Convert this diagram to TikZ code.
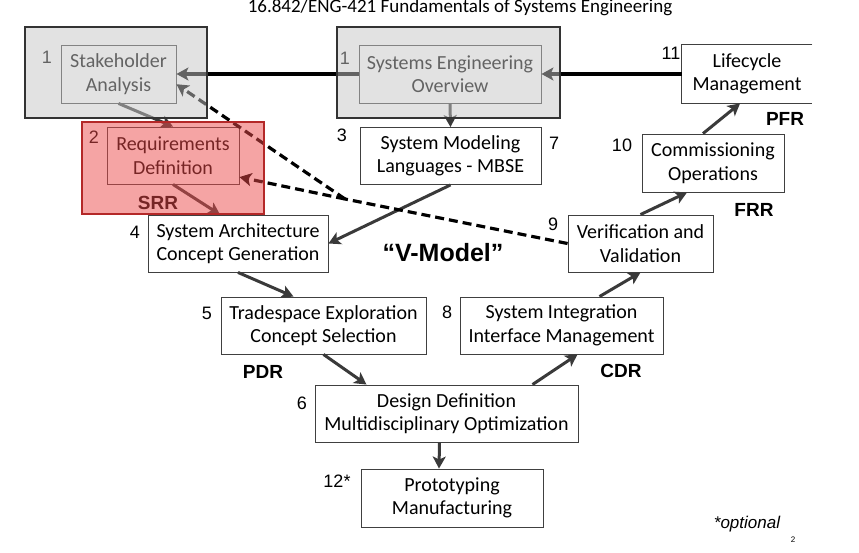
\documentclass[tikz,border=0pt]{standalone}
\usepackage{fontspec}
\setmainfont{Carlito}
\newfontfamily\arialfont{Liberation Sans}
\usetikzlibrary{arrows.meta,calc}
\definecolor{boxgray}{HTML}{C6C6C6}
\definecolor{boxred}{HTML}{EC4A4A}
\definecolor{redline}{HTML}{B42828}
\definecolor{arrowgray}{HTML}{3A3A3A}

\begin{document}
\begin{tikzpicture}[x=1pt,y=-1pt,
  stage/.style={draw=black!75,line width=0.9pt,fill=white,align=center,
    font=\fontsize{20}{23.5}\selectfont,inner sep=0pt},
  num/.style={font=\arialfont\fontsize{18}{18}\selectfont,inner sep=0pt},
  review/.style={font=\arialfont\bfseries\fontsize{19}{19}\selectfont,inner sep=0pt},
  flow/.style={draw=arrowgray,line width=3pt,-{Stealth[length=12pt,width=13pt,inset=3pt]}},
  feedback/.style={draw=black,line width=3.2pt,dash pattern=on 9pt off 5pt,
    -{Stealth[length=12pt,width=13pt,inset=3pt]}},
  shadegray/.style={draw=black!80,line width=1.3pt,fill=boxgray,fill opacity=0.5,inner sep=0pt},
  shadered/.style={draw=redline,line width=1.3pt,fill=boxred,fill opacity=0.5,inner sep=0pt}]
  \path[use as bounding box,clip] (0,0) rectangle (859,553);

  \node[anchor=base,font=\fontsize{19}{19}\selectfont] (title) at (460,13)
    {16.842/ENG-421 Fundamentals of Systems Engineering};

  % stages of the V
  \node[stage,minimum width=115,minimum height=58] (sa) at (118.5,74) {Stakeholder\\Analysis};
  \node[stage,minimum width=182,minimum height=58] (se) at (450,74) {Systems Engineering\\Overview};
  \node[stage,draw=none,minimum width=130,minimum height=58] (lm) at (747,74) {Lifecycle\\Management};
  \draw[black!75,line width=0.9pt] (lm.north east) -- (lm.north west) -- (lm.south west) -- (lm.south east);
  \node[stage,minimum width=181,minimum height=57] (sml) at (450.5,156) {System Modeling\\Languages - MBSE};
  \node[stage,minimum width=142,minimum height=58] (co) at (713,163) {Commissioning\\Operations};
  \node[stage,minimum width=132,minimum height=57] (rd) at (173,155.5) {Requirements\\Definition};
  \node[stage,minimum width=180,minimum height=57] (sacg) at (238,243.5) {System Architecture\\Concept Generation};
  \node[stage,minimum width=145,minimum height=57] (vv) at (640.5,243.5) {Verification and\\Validation};
  \node[stage,minimum width=205,minimum height=57] (te) at (323.5,325.5) {Tradespace Exploration\\Concept Selection};
  \node[stage,minimum width=203,minimum height=57] (si) at (561.5,325.5) {System Integration\\Interface Management};
  \node[stage,minimum width=263,minimum height=57] (dd) at (446.5,413.5) {Design Definition\\Multidisciplinary Optimization};
  \node[stage,minimum width=182,minimum height=58] (pm) at (452,498) {Prototyping\\Manufacturing};

  % numbers and reviews
  \node[num] (n1a) at (47,57) {1};
  \node[num] (n1b) at (345,58) {1};
  \node[num] (n11) at (671,53) {11};
  \node[num] (n2) at (94,137) {2};
  \node[num] (n3) at (342,135) {3};
  \node[num] (n7) at (554,143) {7};
  \node[num] (n10) at (622,145) {10};
  \node[num] (n4) at (135,232) {4};
  \node[num] (n9) at (553,224) {9};
  \node[num] (n5) at (207,313) {5};
  \node[num] (n8) at (447,312) {8};
  \node[num] (n6) at (302,403) {6};
  \node[num] (n12) at (337,481) {12*};
  \node[review] (srr) at (158,203) {SRR};
  \node[review] (pfr) at (785,119) {PFR};
  \node[review] (frr) at (754,210) {FRR};
  \node[review] (pdr) at (263,372) {PDR};
  \node[review] (cdr) at (621,371) {CDR};

  % arrows
  \draw[flow,draw=black,line width=3.5pt] (se.west) -- (sa.east);
  \draw[flow,draw=black,line width=3.5pt] (lm.west) -- (se.east);
  \draw[flow] (sa.south) -- (rd.north);
  \draw[flow] (rd.south) -- ($(sacg.north)+(-18,0)$);
  \draw[flow] (se.south) -- (sml.north);
  \draw[flow] (sml.south) -- (sacg.east);
  \draw[flow] (sacg.south) -- ($(te.north)+(-30,0)$);
  \draw[flow] (te.south) -- ($(dd.north)+(-80,0)$);
  \draw[flow] ($(dd.north)+(86,0)$) -- ($(si.south)+(16,0)$);
  \draw[flow] ($(si.north)+(38,0)$) -- (vv.south);
  \draw[flow] (vv.north) -- ($(co.south)+(-26,0)$);
  \draw[flow] ($(co.north)+(-10,0)$) -- ($(lm.south)+(-7,0)$);
  \draw[flow] ($(dd.south)+(-7,0)$) -- ($(pm.north)+(-13,0)$);

  % feedback from V&V
  \coordinate (vj) at (345,199);
  \draw[feedback,-] (vv.west) -- (vj);
  \draw[feedback] (vj) -- (sa.-10);
  \draw[feedback] (vj) -- (rd.-18);

  % highlights
  \node[shadegray,minimum width=182,minimum height=91] (sho) at (116,72.5) {};
  \node[shadegray,minimum width=223,minimum height=91] (seo) at (448.5,72.5) {};
  \node[shadered,minimum width=182,minimum height=92] (rdo) at (173,168) {};

  \node[font=\arialfont\bfseries\fontsize{25}{25}\selectfont] (vmodel) at (443,253) {“V-Model”};
  \node[font=\arialfont\itshape\fontsize{17}{17}\selectfont] (opt) at (747,524) {*optional};
  \node[font=\arialfont\fontsize{8}{8}\selectfont] (pagenum) at (793,540) {2};
\end{tikzpicture}
\end{document}
